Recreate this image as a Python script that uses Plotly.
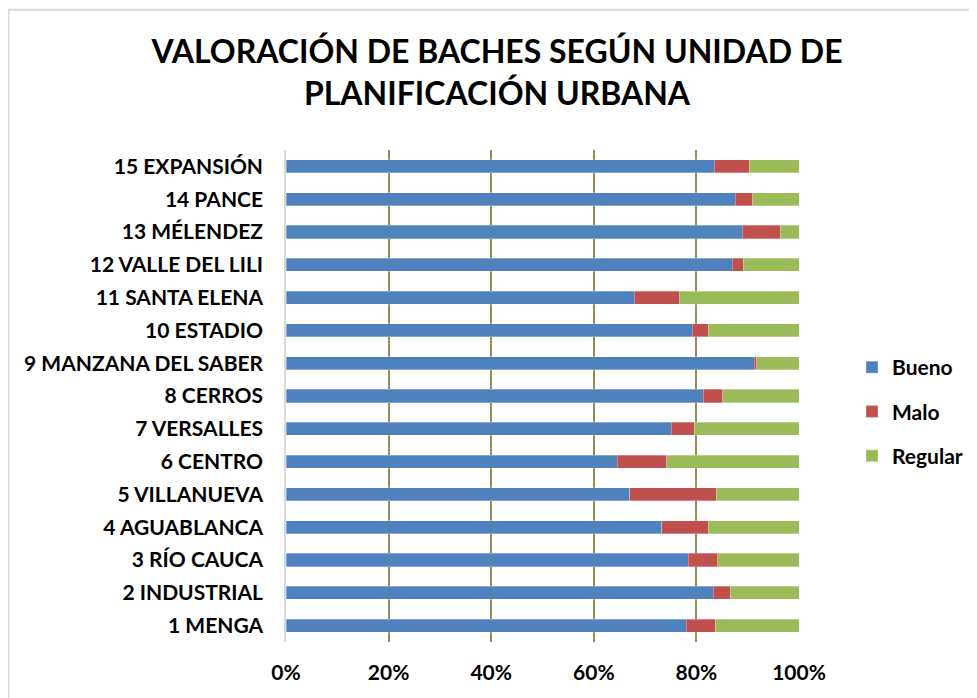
import plotly.graph_objects as go

categories = ["1 MENGA", "2 INDUSTRIAL", "3 RÍO CAUCA", "4 AGUABLANCA", "5 VILLANUEVA",
              "6 CENTRO", "7 VERSALLES", "8 CERROS", "9 MANZANA DEL SABER", "10 ESTADIO",
              "11 SANTA ELENA", "12 VALLE DEL LILI", "13 MÉLENDEZ", "14 PANCE", "15 EXPANSIÓN"]
bueno = [78.0, 83.3, 78.4, 73.2, 67.0, 64.6, 75.1, 81.3, 91.3, 79.2, 67.9, 87.0, 88.9, 87.6, 83.5]
malo = [5.7, 3.3, 5.8, 9.1, 16.9, 9.6, 4.5, 3.8, 0.5, 3.1, 8.9, 2.1, 7.4, 3.4, 6.8]
regular = [round(100 - b - m, 1) for b, m in zip(bueno, malo)]
x_ticks = [0, 0.2, 0.4, 0.6, 0.8, 1.0]

FONT = "Lato"
OFF = 8  # page body margin
W, H = 977 - OFF, 698 - OFF
L, R = 286 - OFF, 799 - OFF
T, B = 149.6 - OFF, 642.4 - OFF

fig = go.Figure()
for name, vals, color, grp in [("Bueno", bueno, "#4f81bd", "a"),
                               ("Malo", malo, "#c0504d", "b"),
                               ("Regular", regular, "#9bbb59", "c")]:
    fig.add_trace(go.Bar(
        y=categories, x=vals, name=name, orientation="h",
        marker=dict(color=color, line=dict(color="rgba(255,255,255,0.5)", width=0.6)),
        legendgroup=grp,
    ))

def px_x(p):
    return (p - OFF - L) / (R - L)

def px_y(p):
    return (B - (p - OFF)) / (B - T)

fig.update_layout(
    width=W, height=H,
    barmode="stack", barnorm="fraction", bargap=0.6,
    paper_bgcolor="white", plot_bgcolor="white",
    margin=dict(l=L, r=W - R, t=T, b=H - B, pad=0),
    font=dict(family=FONT, color="black", size=21, weight="bold"),
    title=dict(text="VALORACIÓN DE BACHES SEGÚN UNIDAD DE<br>PLANIFICACIÓN URBANA",
               x=(497 - OFF) / W, xref="container", xanchor="center",
               y=1 - (63 - OFF) / H, yref="container", yanchor="middle",
               font=dict(family=FONT, size=32, color="black", weight="bold")),
    xaxis=dict(range=[0, 1], tickvals=x_ticks, tickformat=".0%",
               showgrid=True, gridcolor="#968c5a", gridwidth=1.5,
               zeroline=False, showline=False, ticks="",
               tickfont=dict(family=FONT, size=21, color="black", weight="bold"),
               ticklabelstandoff=16, fixedrange=True),
    yaxis=dict(showgrid=False, showline=True, linecolor="#d9d9d9", linewidth=1.5,
               ticks="", tickfont=dict(family=FONT, size=21, color="black", weight="bold"),
               ticklabelstandoff=17, fixedrange=True),
    legend=dict(x=(852 - OFF) / W, xref="container", xanchor="left",
                y=1 - (347 - OFF) / H, yref="container", yanchor="top",
                traceorder="grouped", tracegroupgap=14,
                font=dict(family=FONT, size=21, color="black", weight="bold"),
                bgcolor="rgba(0,0,0,0)"),
    showlegend=True,
    shapes=[
        dict(type="line", xref="paper", yref="paper",
             x0=px_x(8.5), x1=px_x(8.5), y0=px_y(8), y1=px_y(H + 20),
             line=dict(color="#d9d9d9", width=2)),
        dict(type="line", xref="paper", yref="paper",
             x0=px_x(8.5), x1=px_x(W + 20), y0=px_y(9), y1=px_y(9),
             line=dict(color="#d9d9d9", width=2)),
    ],
)

fig.write_html("out.html")
